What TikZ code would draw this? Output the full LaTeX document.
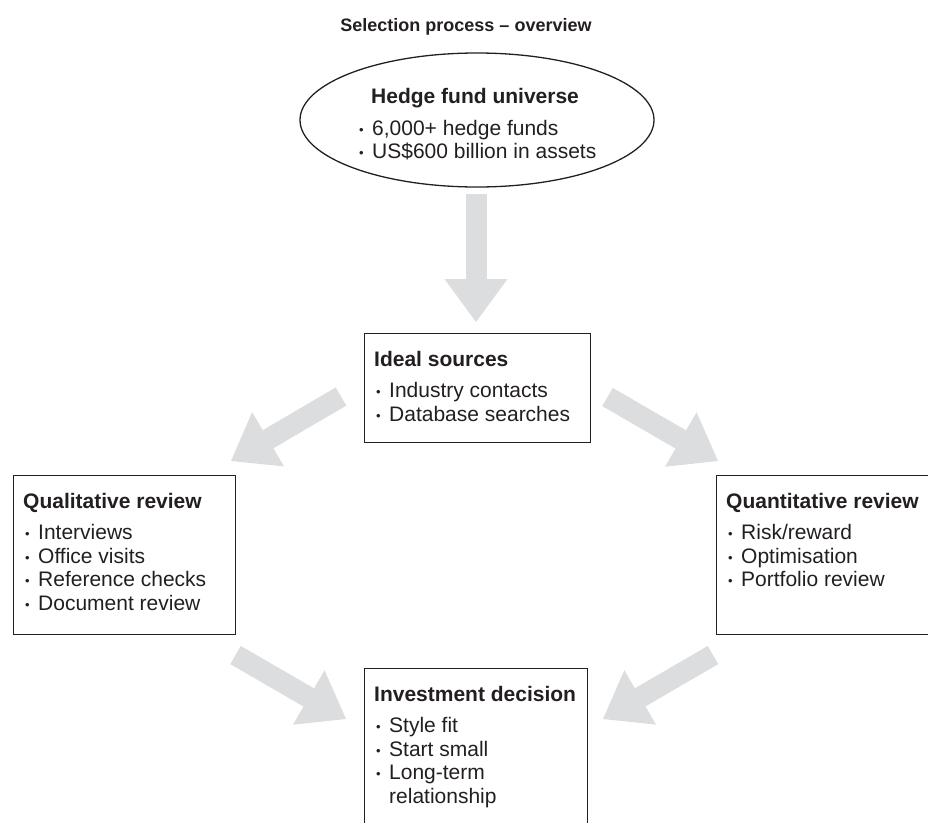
\documentclass[tikz,border=0pt]{standalone}
\usepackage{fontspec}
\setmainfont{Liberation Sans}
\usetikzlibrary{arrows.meta,shapes.geometric}
\definecolor{arrowgray}{RGB}{220,221,223}
\definecolor{inkline}{RGB}{35,31,32}
\newcommand\bul{\makebox[15pt][l]{\hspace{2pt}\raisebox{1.2pt}{\fontsize{13}{13}\selectfont •}}}
\begin{document}
\begin{tikzpicture}[x=1pt,y=-1pt,
  boxnode/.style={draw=inkline, line width=1.3pt, rectangle, inner sep=0pt, anchor=north west},
  txtnode/.style={align=left, inner sep=0pt, anchor=north west, text=inkline,
                  font=\fontsize{21}{23.5}\selectfont},
  fatarrow/.style={draw=arrowgray, line width=21pt,
                   -{Triangle[width=63pt,length=43pt,line width=0pt]}}]
\useasboundingbox (0,0) rectangle (928,822);
\clip (0,0) rectangle (928,822);

% title
\node[font=\bfseries\fontsize{18}{21}\selectfont, text=inkline, inner sep=0pt] (title) at (466,27) {Selection process – overview};

% ellipse
\node[ellipse, draw=inkline, line width=1.3pt, minimum width=354pt, minimum height=134pt, inner sep=0pt] (universe) at (477,120) {};
\node[txtnode] (universetxt) at (357,88.5) {\hspace*{14pt}\textbf{Hedge fund universe}\\[8pt]
  \bul 6,000+ hedge funds\\
  \bul US\$600 billion in assets};

% boxes
\node[boxnode, minimum width=226pt, minimum height=109pt] (ideal) at (364,333) {};
\node[txtnode] (idealtxt) at (374,351) {\textbf{Ideal sources}\\[8pt]
  \bul Industry contacts\\
  \bul Database searches};

\node[boxnode, minimum width=222pt, minimum height=159pt] (qual) at (13,475) {};
\node[txtnode] (qualtxt) at (23,493) {\textbf{Qualitative review}\\[8pt]
  \bul Interviews\\
  \bul Office visits\\
  \bul Reference checks\\
  \bul Document review};

\node[boxnode, minimum width=240pt, minimum height=159pt] (quant) at (716,475) {};
\node[txtnode] (quanttxt) at (726,493) {\textbf{Quantitative review}\\[8pt]
  \bul Risk/reward\\
  \bul Optimisation\\
  \bul Portfolio review};

\node[boxnode, minimum width=223pt, minimum height=200pt] (invest) at (364,668) {};
\node[txtnode] (investtxt) at (374,686) {\textbf{Investment decision}\\[8pt]
  \bul Style fit\\
  \bul Start small\\
  \bul Long-term\\
  \hspace*{15pt}relationship};

% arrow end points
\coordinate (a1s) at (476,194);   \coordinate (a1e) at (476,322);
\coordinate (a2s) at (341,396.5); \coordinate (a2e) at (231,461);
\coordinate (a3s) at (607.5,397); \coordinate (a3e) at (718,461);
\coordinate (a4s) at (235.5,655); \coordinate (a4e) at (346,719);
\coordinate (a5s) at (713,655);   \coordinate (a5e) at (603,719);

\draw[fatarrow] (a1s) -- (a1e);
\draw[fatarrow] (a2s) -- (a2e);
\draw[fatarrow] (a3s) -- (a3e);
\draw[fatarrow] (a4s) -- (a4e);
\draw[fatarrow] (a5s) -- (a5e);
\end{tikzpicture}
\end{document}
